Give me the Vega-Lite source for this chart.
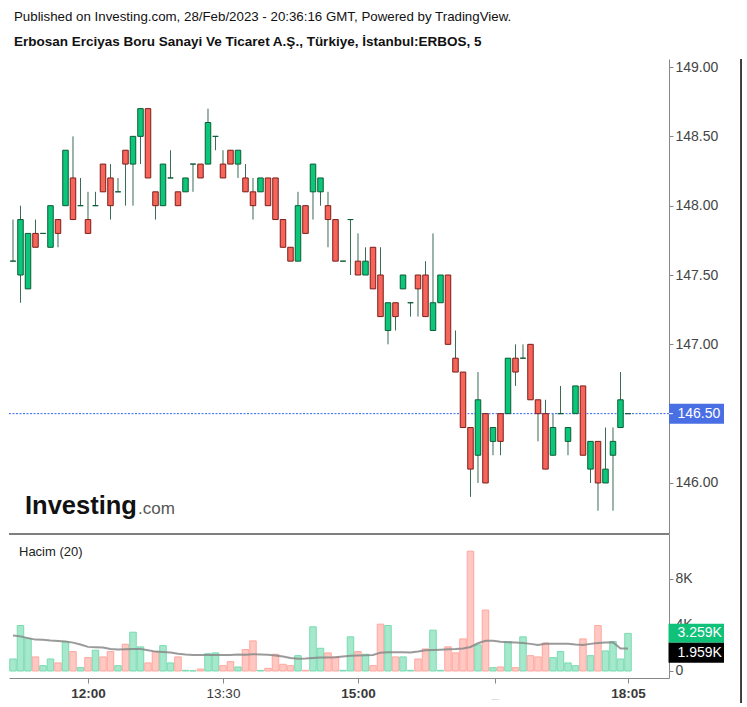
{
  "$schema": "https://vega.github.io/schema/vega-lite/v6.json",
  "background": "white",
  "padding": {"left": 8, "top": 10, "right": 0, "bottom": 0},
  "config": {"view": {"stroke": null}, "font": "Liberation Sans"},
  "title": {
    "text": "Published on Investing.com, 28/Feb/2023 - 20:36:16 GMT, Powered by TradingView.",
    "subtitle": "Erbosan Erciyas Boru Sanayi Ve Ticaret A.Ş., Türkiye, İstanbul:ERBOS, 5",
    "anchor": "start", "frame": "group", "dx": 5,
    "font": "Liberation Sans", "subtitleFont": "Liberation Sans",
    "fontSize": 13.3, "fontWeight": "normal", "color": "#111",
    "subtitleFontSize": 13.5, "subtitleFontWeight": "bold", "subtitleColor": "#111",
    "subtitlePadding": 11.5, "offset": 9.5
  },
  "datasets": {
    "c": [
      {"i":1,"o":147.6,"h":147.9,"l":147.6,"c":147.6,"v":1040,"ma":3070},
      {"i":2,"o":147.5,"h":148.0,"l":147.3,"c":147.9,"v":3940,"ma":3000},
      {"i":3,"o":147.4,"h":147.8,"l":147.4,"c":147.8,"v":2840,"ma":2850},
      {"i":4,"o":147.8,"h":147.9,"l":147.7,"c":147.7,"v":1220,"ma":2720},
      {"i":5,"o":147.8,"h":147.8,"l":147.8,"c":147.8,"v":460,"ma":2700},
      {"i":6,"o":147.7,"h":148.0,"l":147.7,"c":148.0,"v":1040,"ma":2640},
      {"i":7,"o":147.9,"h":147.9,"l":147.7,"c":147.8,"v":700,"ma":2600},
      {"i":8,"o":148.0,"h":148.4,"l":148.0,"c":148.4,"v":2550,"ma":2550},
      {"i":9,"o":148.2,"h":148.5,"l":147.9,"c":147.9,"v":1680,"ma":2460},
      {"i":10,"o":148.0,"h":148.2,"l":148.0,"c":148.0,"v":290,"ma":2300},
      {"i":11,"o":147.9,"h":148.1,"l":147.8,"c":147.8,"v":1160,"ma":2090},
      {"i":12,"o":148.0,"h":148.1,"l":148.0,"c":148.0,"v":1800,"ma":2060},
      {"i":13,"o":148.3,"h":148.3,"l":148.1,"c":148.1,"v":1220,"ma":2030},
      {"i":14,"o":148.2,"h":148.3,"l":147.9,"c":148.0,"v":1680,"ma":1900},
      {"i":15,"o":148.1,"h":148.2,"l":148.1,"c":148.1,"v":460,"ma":1860},
      {"i":16,"o":148.4,"h":148.4,"l":148.0,"c":148.3,"v":2320,"ma":1880},
      {"i":17,"o":148.3,"h":148.5,"l":148.0,"c":148.5,"v":3360,"ma":1910},
      {"i":18,"o":148.5,"h":148.7,"l":148.3,"c":148.7,"v":2090,"ma":1900},
      {"i":19,"o":148.7,"h":148.7,"l":148.2,"c":148.2,"v":700,"ma":1800},
      {"i":20,"o":148.1,"h":148.1,"l":147.9,"c":148.0,"v":1680,"ma":1680},
      {"i":21,"o":148.0,"h":148.3,"l":148.0,"c":148.3,"v":2200,"ma":1650},
      {"i":22,"o":148.2,"h":148.4,"l":148.2,"c":148.2,"v":700,"ma":1600},
      {"i":23,"o":148.1,"h":148.1,"l":148.0,"c":148.0,"v":1220,"ma":1500},
      {"i":24,"o":148.1,"h":148.2,"l":148.1,"c":148.2,"v":60,"ma":1420},
      {"i":25,"o":148.3,"h":148.3,"l":148.1,"c":148.3,"v":20,"ma":1390},
      {"i":26,"o":148.3,"h":148.3,"l":148.2,"c":148.2,"v":170,"ma":1390},
      {"i":27,"o":148.3,"h":148.7,"l":148.3,"c":148.6,"v":1500,"ma":1390},
      {"i":28,"o":148.5,"h":148.5,"l":148.4,"c":148.5,"v":1570,"ma":1390},
      {"i":29,"o":148.3,"h":148.4,"l":148.2,"c":148.2,"v":460,"ma":1390},
      {"i":30,"o":148.4,"h":148.4,"l":148.3,"c":148.3,"v":810,"ma":1390},
      {"i":31,"o":148.3,"h":148.4,"l":148.2,"c":148.4,"v":350,"ma":1420},
      {"i":32,"o":148.2,"h":148.3,"l":148.1,"c":148.1,"v":1860,"ma":1400},
      {"i":33,"o":148.1,"h":148.2,"l":147.9,"c":148.0,"v":2610,"ma":1450},
      {"i":34,"o":148.1,"h":148.2,"l":148.1,"c":148.2,"v":50,"ma":1430},
      {"i":35,"o":148.2,"h":148.2,"l":148.0,"c":148.0,"v":230,"ma":1400},
      {"i":36,"o":148.2,"h":148.2,"l":147.9,"c":147.9,"v":1450,"ma":1350},
      {"i":37,"o":147.9,"h":147.9,"l":147.7,"c":147.7,"v":580,"ma":1250},
      {"i":38,"o":147.7,"h":147.7,"l":147.6,"c":147.6,"v":460,"ma":1120},
      {"i":39,"o":147.6,"h":148.1,"l":147.6,"c":148.0,"v":1330,"ma":1060},
      {"i":40,"o":148.0,"h":148.0,"l":147.8,"c":147.8,"v":60,"ma":1080},
      {"i":41,"o":148.1,"h":148.3,"l":147.9,"c":148.3,"v":3830,"ma":1120},
      {"i":42,"o":148.1,"h":148.2,"l":148.0,"c":148.2,"v":1970,"ma":1160},
      {"i":43,"o":148.0,"h":148.1,"l":147.7,"c":147.9,"v":1570,"ma":1180},
      {"i":44,"o":147.9,"h":147.9,"l":147.6,"c":147.6,"v":1220,"ma":1200},
      {"i":45,"o":147.6,"h":147.6,"l":147.6,"c":147.6,"v":60,"ma":1260},
      {"i":46,"o":147.9,"h":147.9,"l":147.5,"c":147.9,"v":2960,"ma":1330},
      {"i":47,"o":147.6,"h":147.8,"l":147.5,"c":147.5,"v":1680,"ma":1350},
      {"i":48,"o":147.5,"h":147.7,"l":147.5,"c":147.6,"v":1450,"ma":1360},
      {"i":49,"o":147.7,"h":147.7,"l":147.4,"c":147.4,"v":460,"ma":1390},
      {"i":50,"o":147.5,"h":147.7,"l":147.2,"c":147.2,"v":4060,"ma":1590},
      {"i":51,"o":147.1,"h":147.3,"l":147.0,"c":147.3,"v":3940,"ma":1620},
      {"i":52,"o":147.3,"h":147.3,"l":147.1,"c":147.2,"v":1220,"ma":1630},
      {"i":53,"o":147.4,"h":147.5,"l":147.4,"c":147.5,"v":1220,"ma":1620},
      {"i":54,"o":147.3,"h":147.3,"l":147.2,"c":147.3,"v":60,"ma":1600},
      {"i":55,"o":147.5,"h":147.5,"l":147.2,"c":147.4,"v":1040,"ma":1680},
      {"i":56,"o":147.5,"h":147.6,"l":147.2,"c":147.2,"v":1910,"ma":1790},
      {"i":57,"o":147.1,"h":147.8,"l":147.1,"c":147.3,"v":3540,"ma":1820},
      {"i":58,"o":147.3,"h":147.5,"l":147.3,"c":147.5,"v":60,"ma":1850},
      {"i":59,"o":147.5,"h":147.5,"l":147.0,"c":147.0,"v":2090,"ma":1880},
      {"i":60,"o":146.9,"h":147.1,"l":146.8,"c":146.8,"v":1570,"ma":1900},
      {"i":61,"o":146.8,"h":146.8,"l":146.4,"c":146.4,"v":2780,"ma":1950},
      {"i":62,"o":146.4,"h":146.4,"l":145.9,"c":146.1,"v":10380,"ma":2080},
      {"i":63,"o":146.2,"h":146.8,"l":146.0,"c":146.6,"v":2260,"ma":2400},
      {"i":64,"o":146.5,"h":146.5,"l":146.0,"c":146.0,"v":5280,"ma":2620},
      {"i":65,"o":146.3,"h":146.4,"l":146.2,"c":146.4,"v":290,"ma":2620},
      {"i":66,"o":146.5,"h":146.5,"l":146.2,"c":146.3,"v":350,"ma":2540},
      {"i":67,"o":146.5,"h":146.9,"l":146.5,"c":146.9,"v":2550,"ma":2500},
      {"i":68,"o":146.9,"h":147.0,"l":146.7,"c":146.8,"v":290,"ma":2470},
      {"i":69,"o":146.9,"h":147.0,"l":146.9,"c":146.9,"v":2960,"ma":2430},
      {"i":70,"o":147.0,"h":147.0,"l":146.6,"c":146.6,"v":1330,"ma":2350},
      {"i":71,"o":146.6,"h":146.6,"l":146.3,"c":146.5,"v":1220,"ma":2250},
      {"i":72,"o":146.5,"h":146.6,"l":146.1,"c":146.1,"v":2430,"ma":2370},
      {"i":73,"o":146.2,"h":146.5,"l":146.2,"c":146.4,"v":1160,"ma":2370},
      {"i":74,"o":146.5,"h":146.7,"l":146.5,"c":146.5,"v":1680,"ma":2370},
      {"i":75,"o":146.3,"h":146.4,"l":146.2,"c":146.4,"v":700,"ma":2370},
      {"i":76,"o":146.5,"h":146.7,"l":146.5,"c":146.7,"v":460,"ma":2300},
      {"i":77,"o":146.7,"h":146.7,"l":146.2,"c":146.2,"v":2780,"ma":2250},
      {"i":78,"o":146.1,"h":146.3,"l":146.0,"c":146.3,"v":1330,"ma":2350},
      {"i":79,"o":146.3,"h":146.3,"l":145.8,"c":146.0,"v":3940,"ma":2430},
      {"i":80,"o":146.0,"h":146.4,"l":146.0,"c":146.1,"v":1740,"ma":2480},
      {"i":81,"o":146.2,"h":146.4,"l":145.8,"c":146.3,"v":2550,"ma":2500},
      {"i":82,"o":146.4,"h":146.8,"l":146.4,"c":146.6,"v":1040,"ma":1950},
      {"i":83,"o":146.5,"h":146.5,"l":146.5,"c":146.5,"v":3259,"ma":1959}
    ]
  },
  "spacing": 0,
  "bounds": "flush",
  "vconcat": [
    {
      "width": 660,
      "height": 475,
      "encoding": {
        "x": {"type": "quantitative", "scale": {"domain": [0.467, 88.467], "nice": false, "zero": false, "padding": 0}, "axis": null}
      },
      "layer": [
        {
          "data": {"values": [{}]},
          "mark": {"type": "rule", "color": "#3467f2", "strokeWidth": 1, "strokeDash": [2, 1.5]},
          "encoding": {"y": {"datum": 146.5, "type": "quantitative"}}
        },
        {
          "data": {"name": "c"},
          "mark": {"type": "rule", "color": "#3b6b52", "strokeWidth": 1},
          "encoding": {
            "x": {"field": "i", "type": "quantitative"},
            "y": {"field": "l", "type": "quantitative",
              "scale": {"domain": [145.632, 149.058], "nice": false, "zero": false},
              "axis": {"orient": "right", "values": [146, 146.5, 147, 147.5, 148, 148.5, 149], "format": ".2f",
                "grid": false, "domainColor": "#888", "tickColor": "#888", "tickSize": 4,
                "labelFontSize": 14, "labelColor": "#444", "labelPadding": 2, "title": null, "labelFont": "Liberation Sans"}},
            "y2": {"field": "h"}
          }
        },
        {
          "data": {"name": "c"},
          "mark": {"type": "bar", "orient": "vertical", "width": 5.5, "strokeWidth": 1},
          "encoding": {
            "x": {"field": "i", "type": "quantitative"},
            "y": {"field": "o", "type": "quantitative"},
            "y2": {"field": "c"},
            "fill": {"condition": {"test": "datum.c >= datum.o", "value": "#0bc77a"}, "value": "#f6645a"},
            "stroke": {"condition": {"test": "datum.c >= datum.o", "value": "#0b5c36"}, "value": "#7b1f1a"}
          }
        },
        {
          "data": {"values": [{}]},
          "mark": {"type": "text", "text": "Investing", "font": "Liberation Sans", "fontWeight": "bold", "fontSize": 25.5, "color": "#111", "align": "left", "baseline": "alphabetic"},
          "encoding": {"x": {"datum": 2.6}, "y": {"datum": 145.777}}
        },
        {
          "data": {"values": [{}]},
          "mark": {"type": "text", "text": ".com", "font": "Liberation Sans", "fontSize": 17, "color": "#555", "align": "left", "baseline": "alphabetic"},
          "encoding": {"x": {"datum": 17.67}, "y": {"datum": 145.777}}
        },
        {
          "data": {"values": [{}]},
          "mark": {"type": "rule", "color": "#555", "strokeWidth": 1.3},
          "encoding": {"y": {"datum": 145.632}}
        },
        {
          "data": {"values": [{}]},
          "mark": {"type": "rect", "fill": "#4a6ee3"},
          "encoding": {"x": {"datum": 88.47}, "x2": {"datum": 95.8}, "y": {"datum": 146.572}, "y2": {"datum": 146.428}}
        },
        {
          "data": {"values": [{}]},
          "mark": {"type": "rule", "color": "white", "strokeWidth": 1},
          "encoding": {"x": {"datum": 88.47}, "x2": {"datum": 89.0}, "y": {"datum": 146.5}}
        },
        {
          "data": {"values": [{}]},
          "mark": {"type": "text", "text": "146.50", "font": "Liberation Sans", "fontSize": 14, "color": "white", "align": "left", "baseline": "middle"},
          "encoding": {"x": {"datum": 89.6}, "y": {"datum": 146.5}}
        },
        {
          "data": {"values": [{}]},
          "mark": {"type": "rule", "color": "#000", "strokeWidth": 1.5},
          "encoding": {"x": {"datum": 98.07}, "y": {"datum": 149.058}, "y2": {"datum": 145.632}}
        }
      ]
    },
    {
      "width": 660,
      "height": 144,
      "encoding": {
        "x": {"type": "quantitative", "scale": {"domain": [0.467, 88.467], "nice": false, "zero": false, "padding": 0}}
      },
      "layer": [
        {
          "data": {"name": "c"},
          "mark": {"type": "bar", "orient": "vertical", "width": 6.5, "strokeWidth": 1},
          "encoding": {
            "x": {"field": "i", "type": "quantitative", "title": null,
              "axis": {"values": [11, 29, 47, 65.25, 83], "grid": false, "domainColor": "#888", "tickColor": "#888", "tickSize": 5,
                "labelPadding": 3, "labelFont": "Liberation Sans", "labelFontSize": 13.5,
                "labelExpr": "datum.value == 11 ? '12:00' : datum.value == 29 ? '13:30' : datum.value == 47 ? '15:00' : datum.value == 83 ? '18:05' : '_'",
                "labelFontWeight": {"condition": {"test": "datum.value == 29", "value": "normal"}, "value": "bold"},
                "labelColor": {"condition": {"test": "datum.value == 65.25", "value": "#c8c8c8"}, "value": "#3a3a3a"}}},
            "y": {"field": "v", "type": "quantitative",
              "scale": {"domain": [-607, 11872], "nice": false, "zero": false},
              "axis": {"orient": "right", "values": [0, 4000, 8000], "grid": false, "domainColor": "#888", "tickColor": "#888", "tickSize": 4,
                "labelFontSize": 14, "labelColor": "#444", "labelPadding": 2, "title": null, "labelFont": "Liberation Sans",
                "labelExpr": "datum.value == 0 ? '0' : (datum.value / 1000) + 'K'"}},
            "y2": {"datum": 0},
            "fill": {"condition": {"test": "datum.c >= datum.o", "value": "#a6e8cc"}, "value": "#ffc8c3"},
            "stroke": {"condition": {"test": "datum.c >= datum.o", "value": "#78dbb1"}, "value": "#ffa79f"}
          }
        },
        {
          "data": {"name": "c"},
          "mark": {"type": "line", "color": "#888", "strokeWidth": 2, "opacity": 0.85},
          "encoding": {
            "x": {"field": "i", "type": "quantitative"},
            "y": {"field": "ma", "type": "quantitative"}
          }
        },
        {
          "data": {"values": [{}]},
          "mark": {"type": "text", "text": "Hacim (20)", "font": "Liberation Sans", "fontSize": 13, "color": "#222", "align": "left", "baseline": "alphabetic"},
          "encoding": {"x": {"datum": 1.8}, "y": {"datum": 9990}}
        },
        {
          "data": {"values": [{}]},
          "mark": {"type": "rect", "fill": "#10c17a"},
          "encoding": {"x": {"datum": 88.4}, "x2": {"datum": 95.8}, "y": {"datum": 4099}, "y2": {"datum": 2452}}
        },
        {
          "data": {"values": [{}]},
          "mark": {"type": "rect", "fill": "#000"},
          "encoding": {"x": {"datum": 88.4}, "x2": {"datum": 95.8}, "y": {"datum": 2452}, "y2": {"datum": 719}}
        },
        {
          "data": {"values": [{}]},
          "mark": {"type": "text", "text": "3.259K", "font": "Liberation Sans", "fontSize": 14, "color": "white", "align": "left", "baseline": "middle"},
          "encoding": {"x": {"datum": 89.6}, "y": {"datum": 3276}}
        },
        {
          "data": {"values": [{}]},
          "mark": {"type": "text", "text": "1.959K", "font": "Liberation Sans", "fontSize": 14, "color": "white", "align": "left", "baseline": "middle"},
          "encoding": {"x": {"datum": 89.6}, "y": {"datum": 1586}}
        },
        {
          "data": {"values": [{}]},
          "mark": {"type": "rule", "color": "#000", "strokeWidth": 1.5},
          "encoding": {"x": {"datum": 98.07}, "y": {"datum": 11872}, "y2": {"datum": -2770}}
        }
      ]
    }
  ]
}
